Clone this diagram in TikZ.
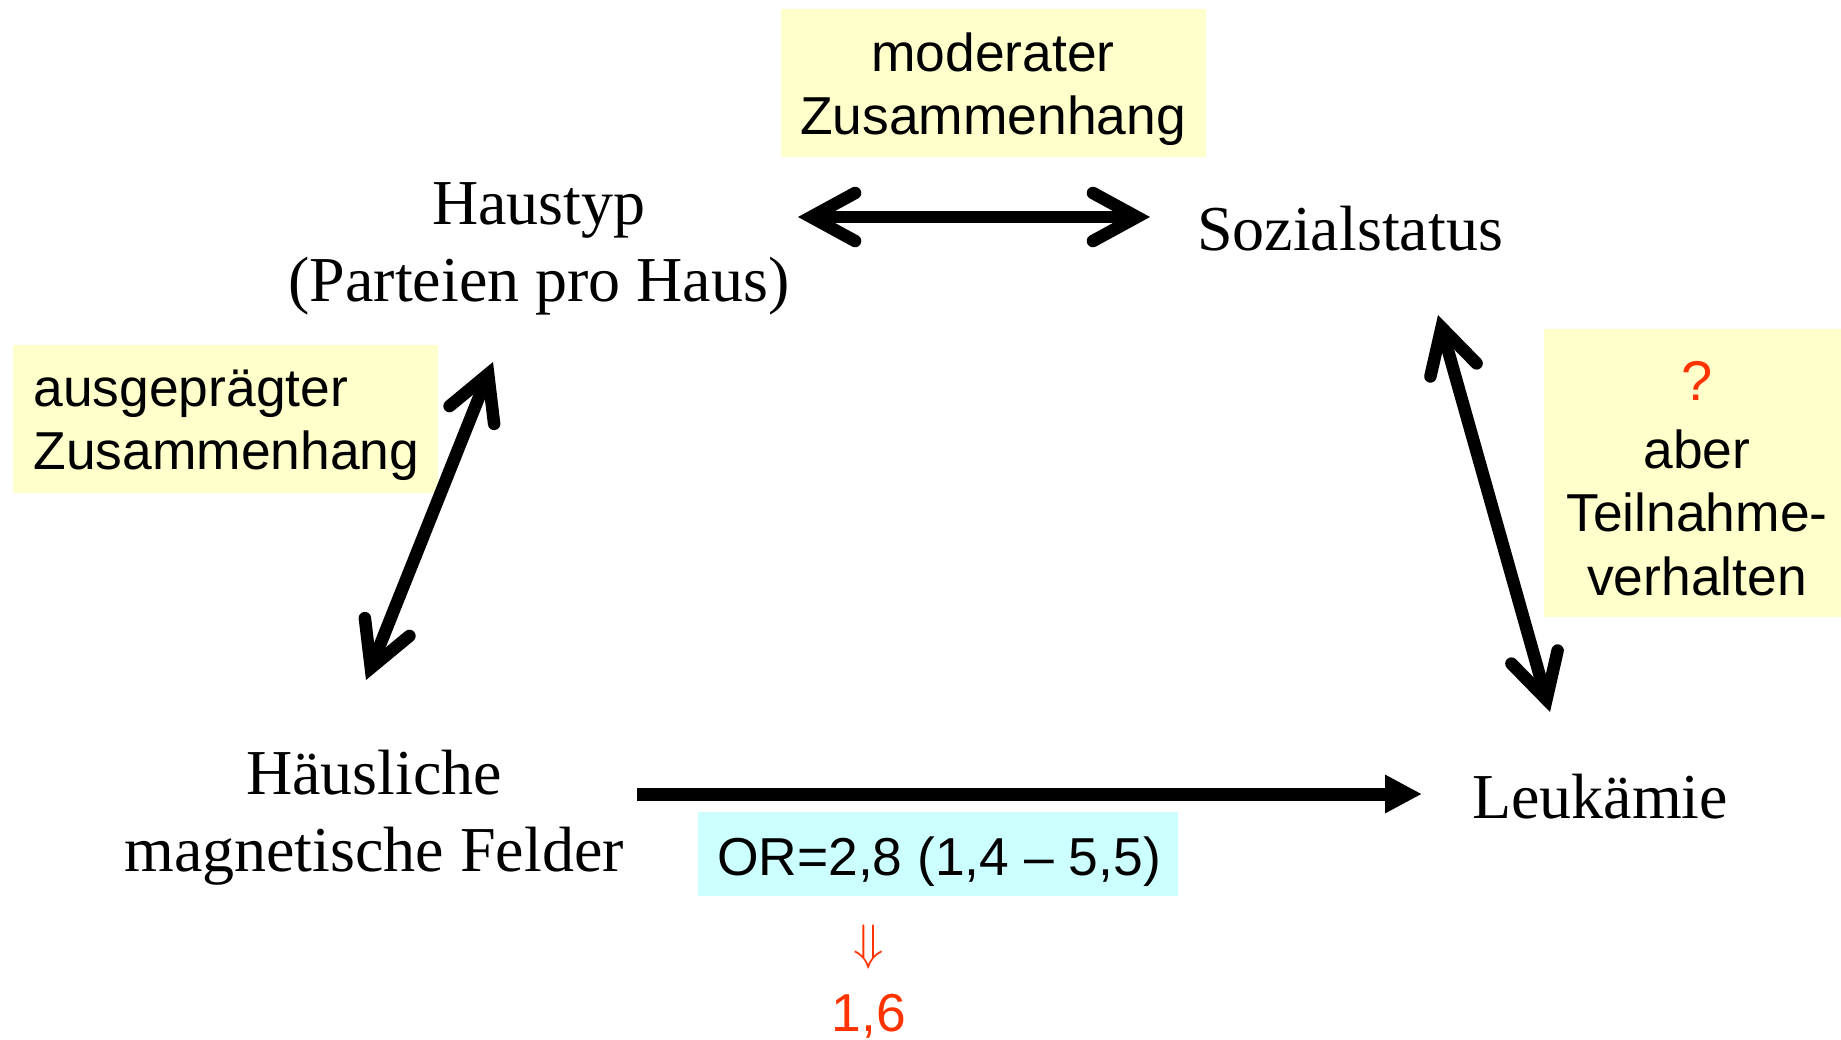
\documentclass[tikz,border=0pt]{standalone}
\usepackage{fontspec}
\setmainfont{Liberation Serif}
\setsansfont{Liberation Sans}
\usepackage{graphicx}
\usetikzlibrary{arrows.meta}
\definecolor{notebg}{HTML}{FFFFCC}
\definecolor{orbg}{HTML}{CCFFFF}
\definecolor{hint}{HTML}{FF3300}

\begin{document}
\begin{tikzpicture}[x=0.5pt, y=-0.5pt,
  serif/.style={font=\fontsize{32}{38}\selectfont, anchor=base, inner sep=0pt},
  sans/.style={font=\sffamily\fontsize{26.7}{31}\selectfont, anchor=base, inner sep=0pt},
  notebox/.style={fill=notebg, draw=none, inner sep=0pt, anchor=north west},
  barbtip/.tip={Straight Barb[length=22pt, width=24pt, line cap=round, line join=miter]},
  link/.style={line width=6.25pt, barbtip-barbtip},
  effect/.style={line width=6.5pt, line cap=butt, -{Triangle[length=18.5pt, width=18pt]}}
]
\useasboundingbox (0,0) rectangle (1841,1039);

% highlighted note boxes
\node[notebox, minimum width=212.5pt, minimum height=74pt] (modbox) at (781,9) {};
\node[notebox, minimum width=212.5pt, minimum height=74pt] (ausbox) at (13,345) {};
\node[notebox, minimum width=148.5pt, minimum height=144pt] (aberbox) at (1544,329) {};
\node[notebox, fill=orbg, minimum width=240pt, minimum height=42pt] (orbox) at (698,812) {};

% notes
\node[sans] (mod1) at (993,71) {moderater};
\node[sans] (mod2) at (993,134) {Zusammenhang};
\node[sans, anchor=base west] (aus1) at (33,406) {ausgeprägter};
\node[sans, anchor=base west] (aus2) at (33,469) {Zusammenhang};
\node[sans, text=hint, font=\sffamily\fontsize{28}{31}\selectfont] (quest) at (1697,400) {?};
\node[sans] (aber1) at (1697,468) {aber};
\node[sans] (aber2) at (1697,531) {Teilnahme-};
\node[sans] (aber3) at (1697,595) {verhalten};
\node[sans] (orval) at (939,875) {OR=2,8 (1,4 – 5,5)};
\node[text=hint, inner sep=0pt, font=\fontsize{42}{44}\selectfont] (down) at (869,947) {$\Downarrow$};
\node[sans, text=hint] (adj) at (869,1031) {1,6};

% variables
\node[serif] (haus1) at (539,224) {Haustyp};
\node[serif] (haus2) at (539,301) {(Parteien pro Haus)};
\node[serif] (sozial) at (1350,250) {Sozialstatus};
\node[serif] (feld1) at (374,794) {Häusliche};
\node[serif] (feld2) at (374,871) {magnetische Felder};
\node[serif] (leuk) at (1600,818) {Leukämie};

% connector ends
\coordinate (hausE) at (798,217);
\coordinate (sozW) at (1150,217);
\coordinate (hausS) at (493,362);
\coordinate (feldN) at (366,680);
\coordinate (sozS) at (1438,315);
\coordinate (leukN) at (1550,712);
\coordinate (feldE) at (637,794);
\coordinate (leukW) at (1422,794);

\draw[link] (hausE) -- (sozW);
\draw[link] (hausS) -- (feldN);
\draw[link] (sozS) -- (leukN);
\draw[effect] (feldE) -- (leukW);
\end{tikzpicture}
\end{document}
